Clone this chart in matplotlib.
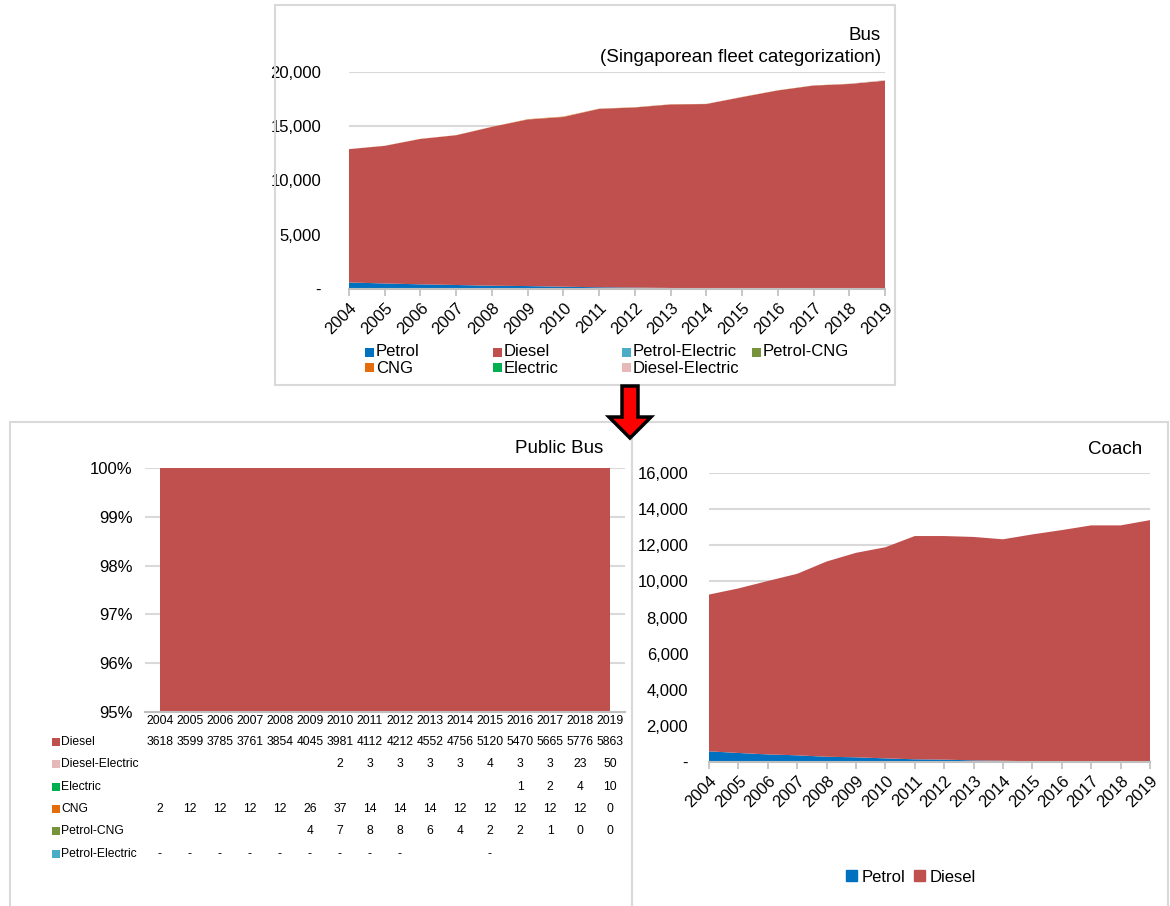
import numpy as np
import matplotlib
matplotlib.use("Agg")
import matplotlib.pyplot as plt
from matplotlib.patches import Rectangle, Polygon, Patch
from matplotlib.ticker import FuncFormatter

plt.rcParams['font.family'] = ['Liberation Sans', 'DejaVu Sans']

years = list(range(2004, 2020))

# Bus (Singaporean fleet categorization)
bus_petrol = [600, 510, 430, 370, 300, 270, 210, 160, 130, 95, 75, 45, 28, 18, 12, 9]
bus_diesel = [12290, 12680, 13400, 13800, 14640, 15350, 15640, 16440, 16600, 16910,
              16970, 17640, 18270, 18730, 18880, 19190]
bus_petrol_electric = [0] * 16
bus_petrol_cng = [0, 0, 0, 0, 0, 4, 7, 8, 8, 6, 4, 2, 2, 1, 0, 0]
bus_cng = [2, 12, 12, 12, 12, 26, 37, 14, 14, 14, 12, 12, 12, 12, 12, 0]
bus_electric = [0, 0, 0, 0, 0, 0, 0, 0, 0, 0, 0, 0, 1, 2, 4, 10]
bus_diesel_electric = [0, 0, 0, 0, 0, 0, 2, 3, 3, 3, 3, 4, 3, 3, 23, 50]

# Public bus table
pb_diesel = [3618, 3599, 3785, 3761, 3854, 4045, 3981, 4112, 4212, 4552, 4756, 5120,
             5470, 5665, 5776, 5863]
pb_diesel_electric = [None] * 6 + [2, 3, 3, 3, 3, 4, 3, 3, 23, 50]
pb_electric = [None] * 12 + [1, 2, 4, 10]
pb_cng = [2, 12, 12, 12, 12, 26, 37, 14, 14, 14, 12, 12, 12, 12, 12, 0]
pb_petrol_cng = [None] * 5 + [4, 7, 8, 8, 6, 4, 2, 2, 1, 0, 0]
pb_petrol_electric = ['-'] * 9 + [None, None, '-', None, None, None, None]

# Coach
coach_petrol = [590, 500, 420, 370, 290, 260, 200, 150, 130, 90, 70, 40, 25, 15, 10, 8]
coach_diesel = [8680, 9110, 9600, 10050, 10810, 11320, 11690, 12360, 12380, 12370,
                12260, 12560, 12815, 13085, 13090, 13382]

C = {'Petrol': '#0070C0', 'Diesel': '#C0504D', 'Petrol-Electric': '#4BACC6',
     'Petrol-CNG': '#77933C', 'CNG': '#E46C0A', 'Electric': '#00B050',
     'Diesel-Electric': '#E6B9B8'}
GRID = '#D9D9D9'
AXC = '#BFBFBF'
TICK_FS = 12
TITLE_FS = 13.5

W, H = 1170, 906
fig = plt.figure(figsize=(W / 100, H / 100), dpi=100)


def box(l, t, r, b):
    return fig.add_axes([l / W, 1 - b / H, (r - l) / W, (b - t) / H])


def fx(x):
    return x / W


def fy(y):
    return 1 - y / H


def thousands(v, pos):
    return '-' if v == 0 else f'{v:,.0f}'


def style_axes(ax, ypad):
    for s in ['top', 'right', 'left']:
        ax.spines[s].set_visible(False)
    ax.spines['bottom'].set_color(AXC)
    ax.spines['bottom'].set_linewidth(1.5)
    ax.grid(axis='y', color=GRID, lw=1.5)
    ax.set_axisbelow(True)
    ax.tick_params(axis='y', length=0, pad=ypad, labelsize=TICK_FS)
    ax.tick_params(axis='x', length=5, color=AXC, width=1.2, labelsize=TICK_FS, pad=3)
    ax.set_xlim(years[0], years[-1])
    ax.set_xticks(years)
    ax.set_xticklabels([str(y) for y in years], rotation=45, ha='right',
                       rotation_mode='anchor')


# frames
fig.patches.append(Rectangle((fx(275), fy(385)), (895 - 275) / W, 380 / H,
                             transform=fig.transFigure, fill=False, ec=GRID, lw=1.5))
fig.patches.append(Rectangle((fx(10), fy(915)), (632 - 10) / W, 493 / H,
                             transform=fig.transFigure, fill=False, ec=GRID, lw=1.5))
fig.patches.append(Rectangle((fx(632), fy(915)), (1168 - 632) / W, 493 / H,
                             transform=fig.transFigure, fill=False, ec=GRID, lw=1.5))

# ---- Bus ----
ax1 = box(349, 72, 885, 289)
bus_names = ['Petrol', 'Diesel', 'Petrol-Electric', 'Petrol-CNG', 'CNG', 'Electric',
             'Diesel-Electric']
bus_vals = [bus_petrol, bus_diesel, bus_petrol_electric, bus_petrol_cng, bus_cng,
            bus_electric, bus_diesel_electric]
ax1.stackplot(years, *bus_vals, colors=[C[n] for n in bus_names], lw=0)
ax1.set_ylim(0, 20000)
ax1.set_yticks(range(0, 20001, 5000))
ax1.yaxis.set_major_formatter(FuncFormatter(thousands))
style_axes(ax1, 20)
fig.text(fx(881), fy(35), 'Bus', ha='right', va='center', fontsize=TITLE_FS)
fig.text(fx(881), fy(57), '(Singaporean fleet categorization)', ha='right',
         va='center', fontsize=TITLE_FS)

leg_x = [365, 493, 622, 752]
for i, n in enumerate(bus_names):
    x = leg_x[i % 4]
    y = 352 if i < 4 else 368
    fig.patches.append(Rectangle((fx(x), fy(y + 4.5)), 9 / W, 9 / H,
                                 transform=fig.transFigure, fc=C[n], ec='none'))
    fig.text(fx(x + 11), fy(y), n, ha='left', va='center', fontsize=TICK_FS)

# ---- Public Bus ----
ax2 = box(145, 468, 625, 712)
pb_small = [pb_petrol_electric, pb_petrol_cng, pb_cng, pb_electric, pb_diesel_electric]
small_num = [np.array([v if isinstance(v, (int, float)) else 0 for v in s], float)
             for s in pb_small]
pb_total = np.array(pb_diesel, float) + sum(small_num)
ax2.stackplot(years, *[s / pb_total for s in small_num], np.array(pb_diesel) / pb_total,
              colors=[C['Petrol-Electric'], C['Petrol-CNG'], C['CNG'], C['Electric'],
                      C['Diesel-Electric'], C['Diesel']], lw=0)
ax2.set_ylim(0.95, 1.0)
ax2.set_xlim(years[0] - 0.5, years[-1] + 0.5)
ax2.set_yticks(np.linspace(0.95, 1.0, 6))
ax2.yaxis.set_major_formatter(FuncFormatter(lambda v, p: f'{v * 100:.0f}%'))
for s in ['top', 'right', 'left']:
    ax2.spines[s].set_visible(False)
ax2.spines['bottom'].set_color(AXC)
ax2.spines['bottom'].set_linewidth(1.5)
ax2.grid(axis='y', color=GRID, lw=1.5)
ax2.set_axisbelow(True)
ax2.tick_params(axis='y', length=0, pad=9, labelsize=TICK_FS)
ax2.set_xticks([])
fig.text(fx(603), fy(448), 'Public Bus', ha='right', va='center', fontsize=TITLE_FS)

table_rows = [('Diesel', pb_diesel), ('Diesel-Electric', pb_diesel_electric),
              ('Electric', pb_electric), ('CNG', pb_cng),
              ('Petrol-CNG', pb_petrol_cng), ('Petrol-Electric', pb_petrol_electric)]
xt = ax2.get_xaxis_transform()
ax_h = 712 - 468


def row_y(ypix):
    return (712 - ypix) / ax_h


for yr in years:
    ax2.text(yr, row_y(721), str(yr), transform=xt, ha='center', va='center',
             fontsize=8.7, clip_on=False)
row_pix = [742, 764, 787, 809, 831, 854]
for (name, vals), yp in zip(table_rows, row_pix):
    fig.patches.append(Rectangle((fx(52), fy(yp + 4)), 8 / W, 8 / H,
                                 transform=fig.transFigure, fc=C[name], ec='none'))
    fig.text(fx(61), fy(yp), name, ha='left', va='center', fontsize=8.7)
    for yr, v in zip(years, vals):
        if v is None:
            continue
        ax2.text(yr, row_y(yp), str(v), transform=xt, ha='center', va='center',
                 fontsize=8.7, clip_on=False)

# ---- Coach ----
ax3 = box(709, 473, 1150, 762)
ax3.stackplot(years, coach_petrol, coach_diesel, colors=[C['Petrol'], C['Diesel']], lw=0)
ax3.set_ylim(0, 16000)
ax3.set_yticks(range(0, 16001, 2000))
ax3.yaxis.set_major_formatter(FuncFormatter(thousands))
style_axes(ax3, 15)
fig.text(fx(1142), fy(450), 'Coach', ha='right', va='center', fontsize=TITLE_FS)
fig.legend(handles=[Patch(color=C['Petrol'], label='Petrol'),
                    Patch(color=C['Diesel'], label='Diesel')],
           loc='center', bbox_to_anchor=(fx(911), fy(877)), ncol=2, frameon=False,
           fontsize=TICK_FS, handlelength=0.65, handleheight=0.65, handletextpad=0.3,
           columnspacing=0.5)

# arrow
arrow = Polygon([(fx(622), fy(386)), (fx(638), fy(386)), (fx(638), fy(417)),
                 (fx(651), fy(417)), (fx(630), fy(438)), (fx(609), fy(417)),
                 (fx(622), fy(417))], closed=True, transform=fig.transFigure,
                fc='#FF0000', ec='black', lw=2.5, zorder=10)
fig.patches.append(arrow)

fig.savefig('out.png', dpi=100)
